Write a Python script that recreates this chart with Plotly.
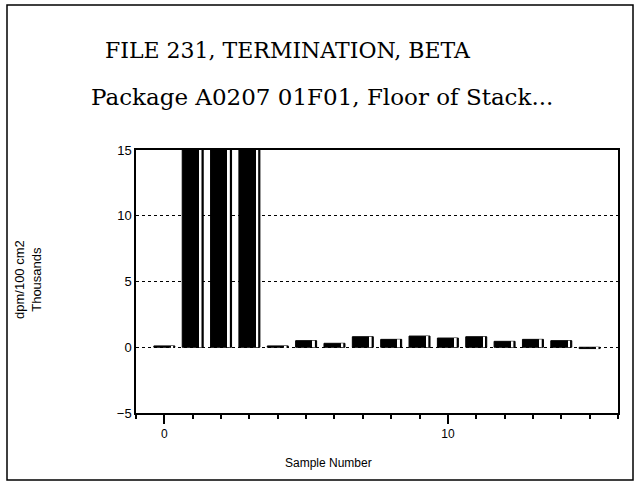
import plotly.graph_objects as go

samples = list(range(16))
values = [0.1, 15, 15, 15, 0.1, 0.5, 0.3, 0.8, 0.6, 0.85, 0.7, 0.8, 0.45, 0.6, 0.5, -0.1]
y_ticks = [-5, 0, 5, 10, 15]
y_labels = ["\u22125", "0", "5", "10", "15"]
x_ticks = [0, 10]

W, H = 641, 483
pl, pr, pt, pb = 136, 618, 150, 413
def px(x): return (x - pl) / (pr - pl)
def py(y): return (pb - y) / (pb - pt)

fig = go.Figure()
fig.add_trace(go.Bar(x=samples, y=values, width=0.74, offset=-0.37,
                     marker=dict(color="black", line=dict(color="black", width=1)),
                     showlegend=False, hoverinfo="x+y"))
fig.add_trace(go.Bar(x=samples, y=values, width=0.07, offset=0.24,
                     marker=dict(color="white", line=dict(width=0)),
                     showlegend=False, hoverinfo="skip"))

serif = "DejaVu Serif, Liberation Serif, serif"
fig.update_layout(
    width=W, height=H,
    paper_bgcolor="white", plot_bgcolor="white",
    barmode="overlay",
    margin=dict(l=pl, r=W - pr, t=pt, b=H - pb),
    font=dict(family="Liberation Sans, Arial", color="black", size=12),
    xaxis=dict(range=[-1, 16], tickvals=x_ticks, ticks="outside", ticklen=9, tickwidth=1.5,
               tickcolor="black", showgrid=False, zeroline=False, showline=True,
               linecolor="black", linewidth=1.5, mirror=True,
               minor=dict(dtick=1, tick0=0, ticks="outside", ticklen=4, tickcolor="black", showgrid=False),
               tickfont=dict(size=12)),
    yaxis=dict(range=[-5, 15], tickvals=y_ticks, ticktext=y_labels,
               ticks="", showgrid=True, gridcolor="black", griddash="dot", gridwidth=1,
               zeroline=False, showline=True, linecolor="black", linewidth=1.5, mirror=True,
               tickfont=dict(size=13), layer="below traces"),
    annotations=[
        dict(text="FILE 231, TERMINATION, BETA", x=px(288), y=py(50), xref="paper", yref="paper",
             xanchor="center", yanchor="middle",
             showarrow=False, font=dict(family=serif, size=22)),
        dict(text="Package A0207 01F01, Floor of Stack...", x=px(322), y=py(97), xref="paper", yref="paper",
             xanchor="center", yanchor="middle",
             showarrow=False, font=dict(family=serif, size=23)),
        dict(text="Sample Number", x=px(328), y=py(463), xref="paper", yref="paper",
             xanchor="center", yanchor="middle", showarrow=False, font=dict(size=12)),
        dict(text="dpm/100 cm2<br>Thousands", x=px(28), y=py(280), xref="paper", yref="paper",
             xanchor="center", yanchor="middle", showarrow=False, textangle=-90,
             font=dict(size=13)),
    ],
)
fig.add_shape(type="rect", xref="paper", yref="paper",
              x0=px(7), x1=px(633), y0=py(480), y1=py(5),
              line=dict(color="black", width=1.5))
fig.write_html("out.html", config={"displayModeBar": False},
               post_script="document.body.style.margin='0px';")
